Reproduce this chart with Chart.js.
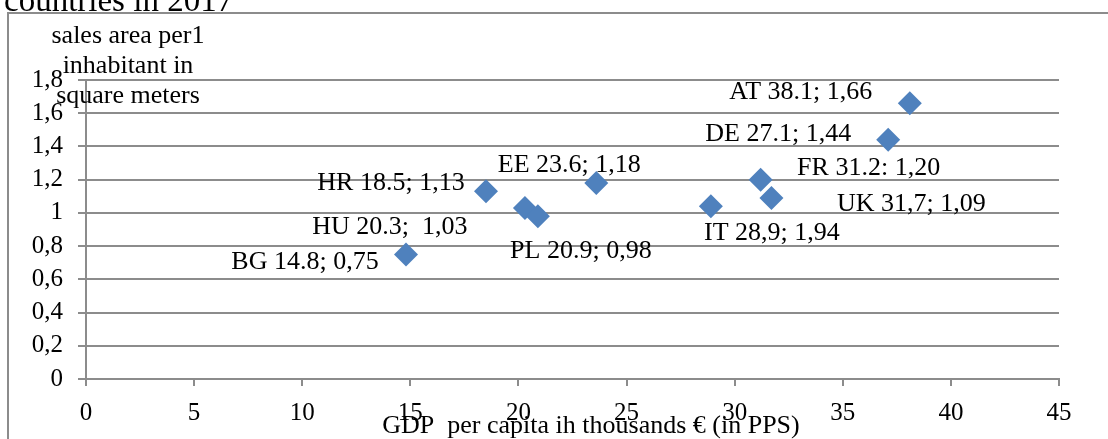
<!DOCTYPE html>
<html>
<head>
<meta charset="utf-8">
<title>Sales area per inhabitant vs GDP per capita</title>
<script src="https://cdn.jsdelivr.net/npm/chart.js@4.4.1/dist/chart.umd.min.js"></script>
<style>
  html, body { margin: 0; padding: 0; background: #fff; }
  canvas { display: block; }
</style>
</head>
<body>
<canvas id="chart" width="1108" height="439"></canvas>
<script>
// GDP per capita (thousands €, PPS) and sales area per inhabitant (m²)
const countries = ['BG', 'HR', 'HU', 'PL', 'EE', 'IT', 'FR', 'UK', 'DE', 'AT'];
const gdpPerCapita = [14.8, 18.5, 20.3, 20.9, 23.6, 28.9, 31.2, 31.7, 37.1, 38.1];
const salesArea = [0.75, 1.13, 1.03, 0.98, 1.18, 1.04, 1.20, 1.09, 1.44, 1.66];
const pointLabels = [
  'BG 14.8; 0,75',
  'HR 18.5; 1,13',
  'HU 20.3;  1,03',
  'PL 20.9; 0,98',
  'EE 23.6; 1,18',
  'IT 28,9; 1,94',
  'FR 31.2: 1,20',
  'UK 31,7; 1,09',
  'DE 27.1; 1,44',
  'AT 38.1; 1,66',
];
const xTicks = { min: 0, max: 45, step: 5 };
const yTicks = { min: 0, max: 1.8, step: 0.2 };

// where each label sits relative to its marker, in pixels
const labelOffsets = [
  [-101, 8], [-95, -8], [-135, 19], [43, 35], [-27, -18],
  [61, 27], [108, -11], [140, 6], [-110, -6], [-109, -11],
];

const FONT = 'Liberation Serif, Times New Roman, serif';
const GRAY = '#8c8c8c';

const points = gdpPerCapita.map((x, i) => ({ x, y: salesArea[i] }));

const decorations = {
  id: 'decorations',
  afterDraw(chart) {
    const ctx = chart.ctx;
    ctx.save();

    // outer frame
    ctx.strokeStyle = GRAY;
    ctx.lineWidth = 2;
    ctx.strokeRect(8, 13, 1300, 600);

    ctx.fillStyle = '#000';

    // heading, partly above the canvas
    ctx.font = '33px ' + FONT;
    ctx.textAlign = 'left';
    ctx.textBaseline = 'alphabetic';
    ctx.fillText('countries in 2017', 4, 11);

    // y axis title, three centered lines
    ctx.font = '26px ' + FONT;
    ctx.textAlign = 'center';
    ['sales area per1', 'inhabitant in', 'square meters'].forEach((line, i) => {
      ctx.fillText(line, 128, 43 + i * 30);
    });

    // x axis title
    ctx.fillText('GDP  per capita ih thousands € (in PPS)', 591, 433);

    // point labels
    const meta = chart.getDatasetMeta(0);
    ctx.textBaseline = 'middle';
    meta.data.forEach((pt, i) => {
      const [dx, dy] = labelOffsets[i];
      ctx.fillText(pointLabels[i], pt.x + dx, pt.y + dy);
    });

    ctx.restore();
  },
};

new Chart(document.getElementById('chart'), {
  type: 'scatter',
  data: {
    datasets: [{
      label: 'Countries',
      data: points,
      pointStyle: 'rectRot',
      pointRadius: 12,
      pointHoverRadius: 12,
      backgroundColor: '#4f81bd',
      borderWidth: 0,
    }],
  },
  options: {
    responsive: false,
    animation: false,
    layout: { padding: { top: 80, right: 49, left: 0, bottom: 0 } },
    plugins: {
      legend: { display: false },
      tooltip: { enabled: false },
    },
    scales: {
      x: {
        type: 'linear',
        min: xTicks.min,
        max: xTicks.max,
        afterFit: (scale) => { scale.height = 60; },
        ticks: {
          stepSize: xTicks.step,
          color: '#000',
          padding: 12,
          font: { family: FONT, size: 25 },
        },
        grid: {
          drawOnChartArea: false,
          drawTicks: true,
          tickLength: 7,
          color: GRAY,
          lineWidth: 2,
        },
        border: { display: true, color: GRAY, width: 2 },
      },
      y: {
        min: yTicks.min,
        max: yTicks.max,
        afterFit: (scale) => { scale.width = 86; },
        ticks: {
          stepSize: yTicks.step,
          color: '#000',
          padding: 15,
          font: { family: FONT, size: 25 },
          callback: (v) => String(Math.round(v * 10) / 10).replace('.', ','),
        },
        grid: {
          drawTicks: true,
          tickLength: 8,
          color: GRAY,
          lineWidth: 2,
        },
        border: { display: true, color: GRAY, width: 2 },
      },
    },
  },
  plugins: [decorations],
});
</script>
</body>
</html>
